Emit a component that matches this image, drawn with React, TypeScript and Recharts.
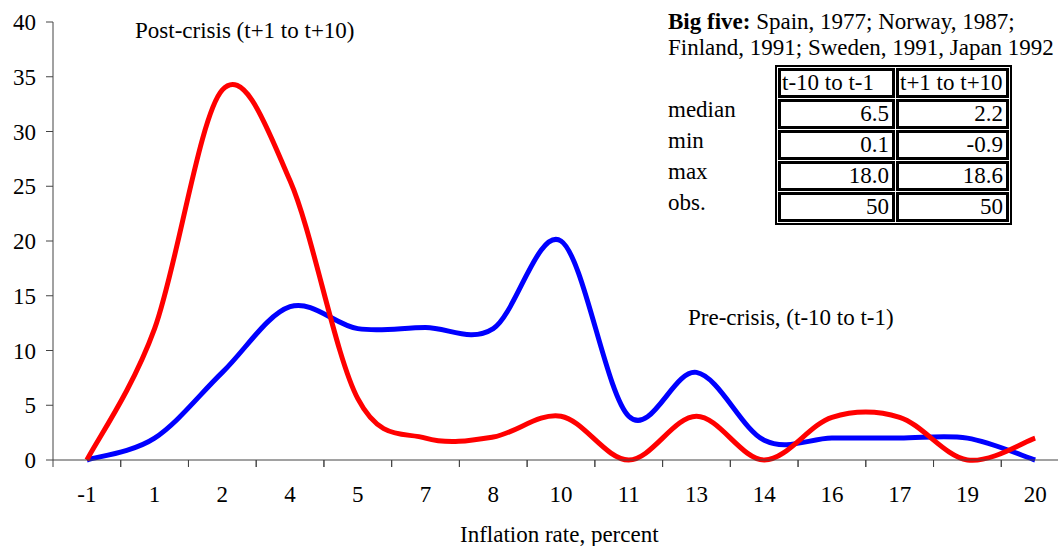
import React from 'react'
import { LineChart, Line, XAxis, YAxis } from 'recharts'

const categories = ['-1', '1', '2', '4', '5', '7', '8', '10', '11', '13', '14', '16', '17', '19', '20']
const preCrisis = [0, 2, 8, 14, 12, 12.1, 12, 20, 4, 8, 1.8, 2, 2, 2, 0]
const postCrisis = [0, 12, 33.8, 25.5, 5.6, 2, 2.1, 4, 0, 4, 0, 3.9, 3.9, 0, 2]
const yTicks = [0, 5, 10, 15, 20, 25, 30, 35, 40]

const statRows = ['median', 'min', 'max', 'obs.']
const statHeaders = ['t-10 to t-1', 't+1 to t+10']
const preStats = ['6.5', '0.1', '18.0', '50']
const postStats = ['2.2', '-0.9', '18.6', '50']

const data = categories.map((c, i) => ({ cat: c, pre: preCrisis[i], post: postCrisis[i] }))

const serif = '"Liberation Serif", "Times New Roman", serif'

// Excel-like smoothing: Catmull-Rom through every point
const excelCurve = (context: any) => {
  let pts: [number, number][] = []
  return {
    areaStart() {},
    areaEnd() {},
    lineStart() {
      pts = []
    },
    point(x: number, y: number) {
      pts.push([+x, +y])
    },
    lineEnd() {
      if (!pts.length) return
      context.moveTo(pts[0][0], pts[0][1])
      for (let i = 0; i < pts.length - 1; i++) {
        const p0 = pts[Math.max(0, i - 1)]
        const p1 = pts[i]
        const p2 = pts[i + 1]
        const p3 = pts[Math.min(pts.length - 1, i + 2)]
        context.bezierCurveTo(
          p1[0] + (p2[0] - p0[0]) / 6,
          p1[1] + (p2[1] - p0[1]) / 6,
          p2[0] - (p3[0] - p1[0]) / 6,
          p2[1] - (p3[1] - p1[1]) / 6,
          p2[0],
          p2[1]
        )
      }
    },
  }
}

const CategoryTick = (props: any) => {
  const { x, y, payload } = props
  const off = payload && payload.offset ? payload.offset : 33.87
  return (
    <g>
      <line x1={x - off} y1={y} x2={x - off} y2={y + 7} stroke="#444" strokeWidth={1} />
      <line x1={x + off} y1={y} x2={x + off} y2={y + 7} stroke="#444" strokeWidth={1} />
      <text x={x} y={y + 42} textAnchor="middle" fontSize={23} fontFamily={serif} fill="#000">
        {payload.value}
      </text>
    </g>
  )
}

const textStyle: React.CSSProperties = {
  position: 'absolute',
  fontFamily: serif,
  fontSize: 23,
  color: '#000',
  whiteSpace: 'nowrap',
  lineHeight: '23px',
}

const cellStyle: React.CSSProperties = {
  border: '3px solid #000',
  height: 24,
  padding: '0 3px',
  fontFamily: serif,
  fontSize: 23,
  lineHeight: '24px',
  whiteSpace: 'nowrap',
  overflow: 'hidden',
}

export default function App() {
  return (
    <div
      style={{
        position: 'fixed',
        left: 0,
        top: 0,
        width: 1058,
        height: 546,
        overflow: 'hidden',
        background: '#fff',
      }}
    >
      <LineChart width={1069} height={546} data={data} margin={{ top: 22, right: 0, left: 0, bottom: 0 }}>
        <XAxis
          dataKey="cat"
          scale="band"
          interval={0}
          height={86}
          tickLine={false}
          tickSize={0}
          tickMargin={0}
          tick={<CategoryTick />}
          axisLine={{ stroke: '#444' }}
        />
        <YAxis
          type="number"
          domain={[0, 40]}
          ticks={yTicks}
          width={53}
          tickSize={7}
          tickMargin={10}
          axisLine={{ stroke: '#444' }}
          tickLine={{ stroke: '#444' }}
          tick={{ fontSize: 23, fontFamily: serif, fill: '#000' }}
        />
        <Line
          dataKey="pre"
          type={excelCurve as any}
          stroke="#0000FF"
          strokeWidth={5}
          dot={false}
          isAnimationActive={false}
        />
        <Line
          dataKey="post"
          type={excelCurve as any}
          stroke="#FF0000"
          strokeWidth={5}
          dot={false}
          isAnimationActive={false}
        />
      </LineChart>

      <div style={{ ...textStyle, left: 135, top: 19 }}>Post-crisis (t+1 to t+10)</div>
      <div style={{ ...textStyle, left: 688, top: 306 }}>Pre-crisis, (t-10 to t-1)</div>
      <div style={{ ...textStyle, left: 460, top: 523 }}>Inflation rate, percent</div>

      <div style={{ ...textStyle, left: 668, top: 10 }}>
        <b>Big five:</b> Spain, 1977; Norway, 1987;
      </div>
      <div style={{ ...textStyle, left: 668, top: 36 }}>Finland, 1991; Sweden, 1991, Japan 1992</div>

      {statRows.map((r, i) => (
        <div key={r} style={{ ...textStyle, left: 668, top: 98 + i * 31 }}>
          {r}
        </div>
      ))}

      <table
        style={{
          position: 'absolute',
          left: 775,
          top: 65,
          width: 235,
          tableLayout: 'fixed',
          border: '2px solid #000',
          borderSpacing: 1,
          borderCollapse: 'separate',
        }}
      >
        <colgroup>
          <col style={{ width: 117 }} />
          <col style={{ width: 113 }} />
        </colgroup>
        <tbody>
          <tr>
            {statHeaders.map((h) => (
              <td key={h} style={{ ...cellStyle, textAlign: 'left', padding: '0 1px' }}>
                {h}
              </td>
            ))}
          </tr>
          {statRows.map((r, i) => (
            <tr key={r}>
              <td style={{ ...cellStyle, textAlign: 'right' }}>{preStats[i]}</td>
              <td style={{ ...cellStyle, textAlign: 'right' }}>{postStats[i]}</td>
            </tr>
          ))}
        </tbody>
      </table>
    </div>
  )
}
